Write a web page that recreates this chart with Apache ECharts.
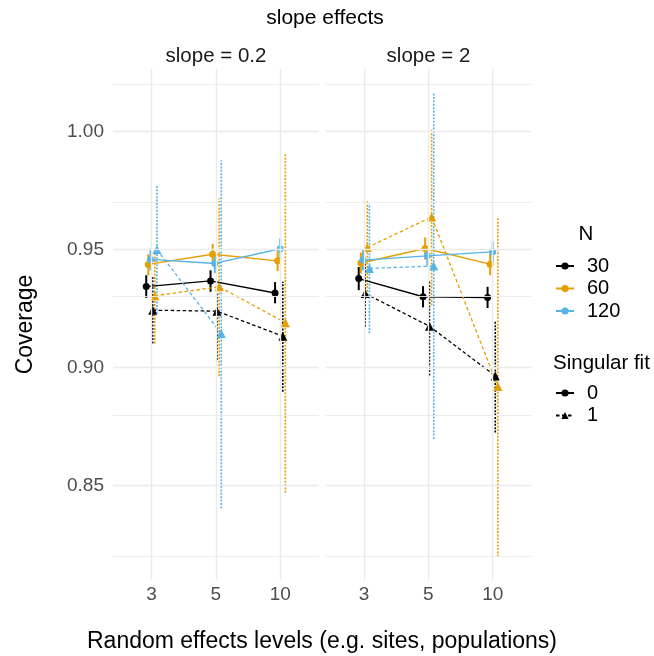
<!DOCTYPE html>
<html>
<head>
<meta charset="utf-8">
<title>coverage_slope</title>
<script src="https://cdn.jsdelivr.net/npm/echarts@6/dist/echarts.min.js"></script>
<style>
  html, body { margin: 0; padding: 0; background: #fff; }
  #chart { width: 654px; height: 656px; }
</style>
</head>
<body>
<div id="chart"></div>
<script>
    var levels = ['3', '5', '10'];          // random effects levels (x)
    var panels = ['slope = 0.2', 'slope = 2'];
    var sizes = ['30', '60', '120'];         // N
    var fits = ['0', '1'];                   // singular fit
    var yTicks = [0.85, 0.90, 0.95, 1.00];
    var yMinor = [0.825, 0.875, 0.925, 0.975, 1.025];

    // rows: N 30, 60, 120 ; columns: levels 3, 5, 10 ; null = no estimate
    var mean02fit0 = [[0.9343, 0.9367, 0.9316], [0.9437, 0.9480, 0.9452], [0.9458, 0.9441, 0.9503]];
    var low02fit0  = [[0.9295, 0.9321, 0.9272], [0.9390, 0.9438, 0.9409], [0.9412, 0.9400, 0.9458]];
    var high02fit0 = [[0.9391, 0.9412, 0.9362], [0.9480, 0.9524, 0.9496], [0.9504, 0.9482, 0.9547]];
    var mean02fit1 = [[0.9243, 0.9239, 0.9133], [0.9304, 0.9342, 0.9190], [0.9500, 0.9144, null]];
    var low02fit1  = [[0.9102, 0.9032, 0.8898], [0.9102, 0.8963, 0.8470], [0.9228, 0.8404, null]];
    var high02fit1 = [[0.9384, 0.9314, 0.9363], [0.9505, 0.9716, 0.9906], [0.9772, 0.9878, null]];

    var mean2fit0 = [[0.9377, 0.9300, 0.9297], [0.9443, 0.9504, 0.9438], [0.9455, 0.9473, 0.9490]];
    var low2fit0  = [[0.9328, 0.9255, 0.9252], [0.9398, 0.9457, 0.9391], [0.9412, 0.9430, 0.9445]];
    var high2fit0 = [[0.9426, 0.9345, 0.9342], [0.9487, 0.9551, 0.9484], [0.9498, 0.9515, 0.9533]];
    var mean2fit1 = [[0.9314, 0.9175, 0.8965], [0.9508, 0.9638, 0.8920], [0.9420, 0.9430, null]];
    var low2fit1  = [[0.9173, 0.8967, 0.8725], [0.9307, 0.9264, 0.8199], [0.9145, 0.8698, null]];
    var high2fit1 = [[0.9455, 0.9370, 0.9194], [0.9709, 1.0012, 0.9638], [0.9694, 1.0166, null]];

    var panelData = [
        { mean: [mean02fit0, mean02fit1], low: [low02fit0, low02fit1], high: [high02fit0, high02fit1] },
        { mean: [mean2fit0, mean2fit1], low: [low2fit0, low2fit1], high: [high2fit0, high2fit1] }
    ];

    var FONT = 'Liberation Sans, Arial, Helvetica, sans-serif';
    var sizeColors = ['#000000', '#E69F00', '#56B4E9'];
    var fitSymbols = ['circle', 'triangle'];
    var fitSymbolSize = [7, 9];
    var fitLineType = ['solid', [3.5, 2.5]];
    var fitBarDash = [null, [2, 1.4]];
    var fitBarWidth = [2, 1.6];
    var dodgeWidth = 0.2;

    // position_dodge: spread the groups present at each level
    function dodge(p, i) {
        var keys = [], out = {};
        for (var f = 0; f < fits.length; f++) {
            for (var n = 0; n < sizes.length; n++) {
                if (panelData[p].mean[f][n][i] != null) keys.push(f * sizes.length + n);
            }
        }
        keys.forEach(function (k, j) {
            out[k] = dodgeWidth * ((j + 0.5) / keys.length - 0.5);
        });
        return out;
    }

    function makeBar(color, f) {
        return function (params, api) {
            var x = api.value(0);
            var a = api.coord([x, api.value(1)]);
            var b = api.coord([x, api.value(2)]);
            return {
                type: 'line',
                shape: { x1: a[0], y1: a[1], x2: b[0], y2: b[1] },
                style: { stroke: color, lineWidth: fitBarWidth[f], lineDash: fitBarDash[f] }
            };
        };
    }

    var series = [];

    // grid lines (theme_minimal)
    panels.forEach(function (name, p) {
        var lines = [];
        yMinor.forEach(function (v) { lines.push({ yAxis: v, lineStyle: { width: 0.9 } }); });
        yTicks.forEach(function (v) { lines.push({ yAxis: v, lineStyle: { width: 1.4 } }); });
        levels.forEach(function (l, i) { lines.push({ xAxis: i + 1, lineStyle: { width: 1.4 } }); });
        series.push({
            type: 'line', name: 'grid' + p, xAxisIndex: p, yAxisIndex: p, data: [], z: 0,
            markLine: {
                silent: true, symbol: ['none', 'none'], label: { show: false }, animation: false,
                lineStyle: { color: '#EBEBEB', type: 'solid' },
                data: lines
            }
        });
    });

    panels.forEach(function (name, p) {
        var offs = levels.map(function (l, i) { return dodge(p, i); });
        for (var f = 0; f < fits.length; f++) {
            for (var n = 0; n < sizes.length; n++) {
                var pts = [], bars = [];
                for (var i = 0; i < levels.length; i++) {
                    var m = panelData[p].mean[f][n][i];
                    if (m == null) continue;
                    var x = i + 1 + offs[i][f * sizes.length + n];
                    pts.push([x, m]);
                    bars.push([x, panelData[p].low[f][n][i], panelData[p].high[f][n][i]]);
                }
                var tag = name + ' N=' + sizes[n] + ' fit=' + fits[f];
                series.push({
                    type: 'custom', name: tag + ' ci', xAxisIndex: p, yAxisIndex: p,
                    data: bars, encode: { x: 0, y: [1, 2] }, z: 2, silent: true,
                    renderItem: makeBar(sizeColors[n], f)
                });
                series.push({
                    type: 'line', name: tag, xAxisIndex: p, yAxisIndex: p, data: pts, z: 3,
                    symbol: fitSymbols[f], symbolSize: fitSymbolSize[f], showSymbol: true,
                    itemStyle: { color: sizeColors[n] },
                    lineStyle: { color: sizeColors[n], width: f ? 1.3 : 1.4, type: fitLineType[f] },
                    silent: true
                });
            }
        }
    });

    // legend keys only
    sizes.forEach(function (s, n) {
        series.push({
            type: 'line', name: s, data: [], symbol: 'circle', symbolSize: 7,
            itemStyle: { color: sizeColors[n] }, lineStyle: { color: sizeColors[n], width: 1.4 }
        });
    });
    fits.forEach(function (s, f) {
        series.push({
            type: 'line', name: s, data: [], symbol: fitSymbols[f], symbolSize: 7,
            itemStyle: { color: '#000' }, lineStyle: { color: '#000', width: 1.3, type: fitLineType[f] }
        });
    });

    function xAxisFor(p) {
        return {
            type: 'value', gridIndex: p, min: 0.4, max: 3.6,
            axisLine: { show: false }, axisTick: { show: false }, splitLine: { show: false },
            axisLabel: {
                customValues: [1, 2, 3], margin: 5, color: '#4D4D4D', fontSize: 19, fontFamily: FONT,
                formatter: function (v) { return levels[Math.round(v) - 1] || ''; }
            }
        };
    }
    function yAxisFor(p) {
        return {
            type: 'value', gridIndex: p, min: 0.8101, max: 1.0264,
            axisLine: { show: false }, axisTick: { show: false }, splitLine: { show: false },
            axisLabel: {
                show: p === 0, customValues: yTicks, margin: 9, color: '#4D4D4D', fontSize: 19, fontFamily: FONT,
                formatter: function (v) { return v.toFixed(2); }
            },
            name: p === 0 ? 'Coverage' : '', nameLocation: 'middle', nameGap: 76,
            nameTextStyle: { color: '#000', fontSize: 23, fontFamily: FONT }
        };
    }

    var titleStyle = { color: '#000', fontWeight: 'normal', fontFamily: FONT };
    var option = {
        animation: false,
        backgroundColor: '#fff',
        title: [
            { text: 'slope effects', left: 325, top: 8, textAlign: 'center', padding: 0,
              textStyle: Object.assign({ fontSize: 21 }, titleStyle) },
            { text: panels[0], left: 216, top: 46, textAlign: 'center', padding: 0,
              textStyle: Object.assign({ fontSize: 20.5 }, titleStyle, { color: '#1A1A1A' }) },
            { text: panels[1], left: 428.5, top: 46, textAlign: 'center', padding: 0,
              textStyle: Object.assign({ fontSize: 20.5 }, titleStyle, { color: '#1A1A1A' }) },
            { text: 'N', left: 586, top: 224, textAlign: 'center', padding: 0,
              textStyle: Object.assign({ fontSize: 20.5 }, titleStyle) },
            { text: 'Singular fit', left: 553, top: 353, padding: 0,
              textStyle: Object.assign({ fontSize: 20.5 }, titleStyle) },
            { text: 'Random effects levels (e.g. sites, populations)', left: 322, top: 630, textAlign: 'center', padding: 0,
              textStyle: Object.assign({ fontSize: 23 }, titleStyle) }
        ],
        legend: [
            { data: sizes, orient: 'vertical', left: 555, top: 256, padding: 0, itemWidth: 18, itemHeight: 9, itemGap: 2.5,
              selectedMode: false, textStyle: { color: '#000', fontSize: 20, lineHeight: 20, fontFamily: FONT, padding: [0, 0, 0, 8] } },
            { data: fits, orient: 'vertical', left: 555, top: 383, padding: 0, itemWidth: 18, itemHeight: 9, itemGap: 2.5,
              selectedMode: false, textStyle: { color: '#000', fontSize: 20, lineHeight: 20, fontFamily: FONT, padding: [0, 0, 0, 8] } }
        ],
        grid: [
            { left: 113, top: 69, width: 205.8, height: 511 },
            { left: 325.5, top: 69, width: 205.8, height: 511 }
        ],
        xAxis: [xAxisFor(0), xAxisFor(1)],
        yAxis: [yAxisFor(0), yAxisFor(1)],
        series: series
    };

    var chart = echarts.init(document.getElementById('chart'));
    chart.setOption(option);
</script>
</body>
</html>
